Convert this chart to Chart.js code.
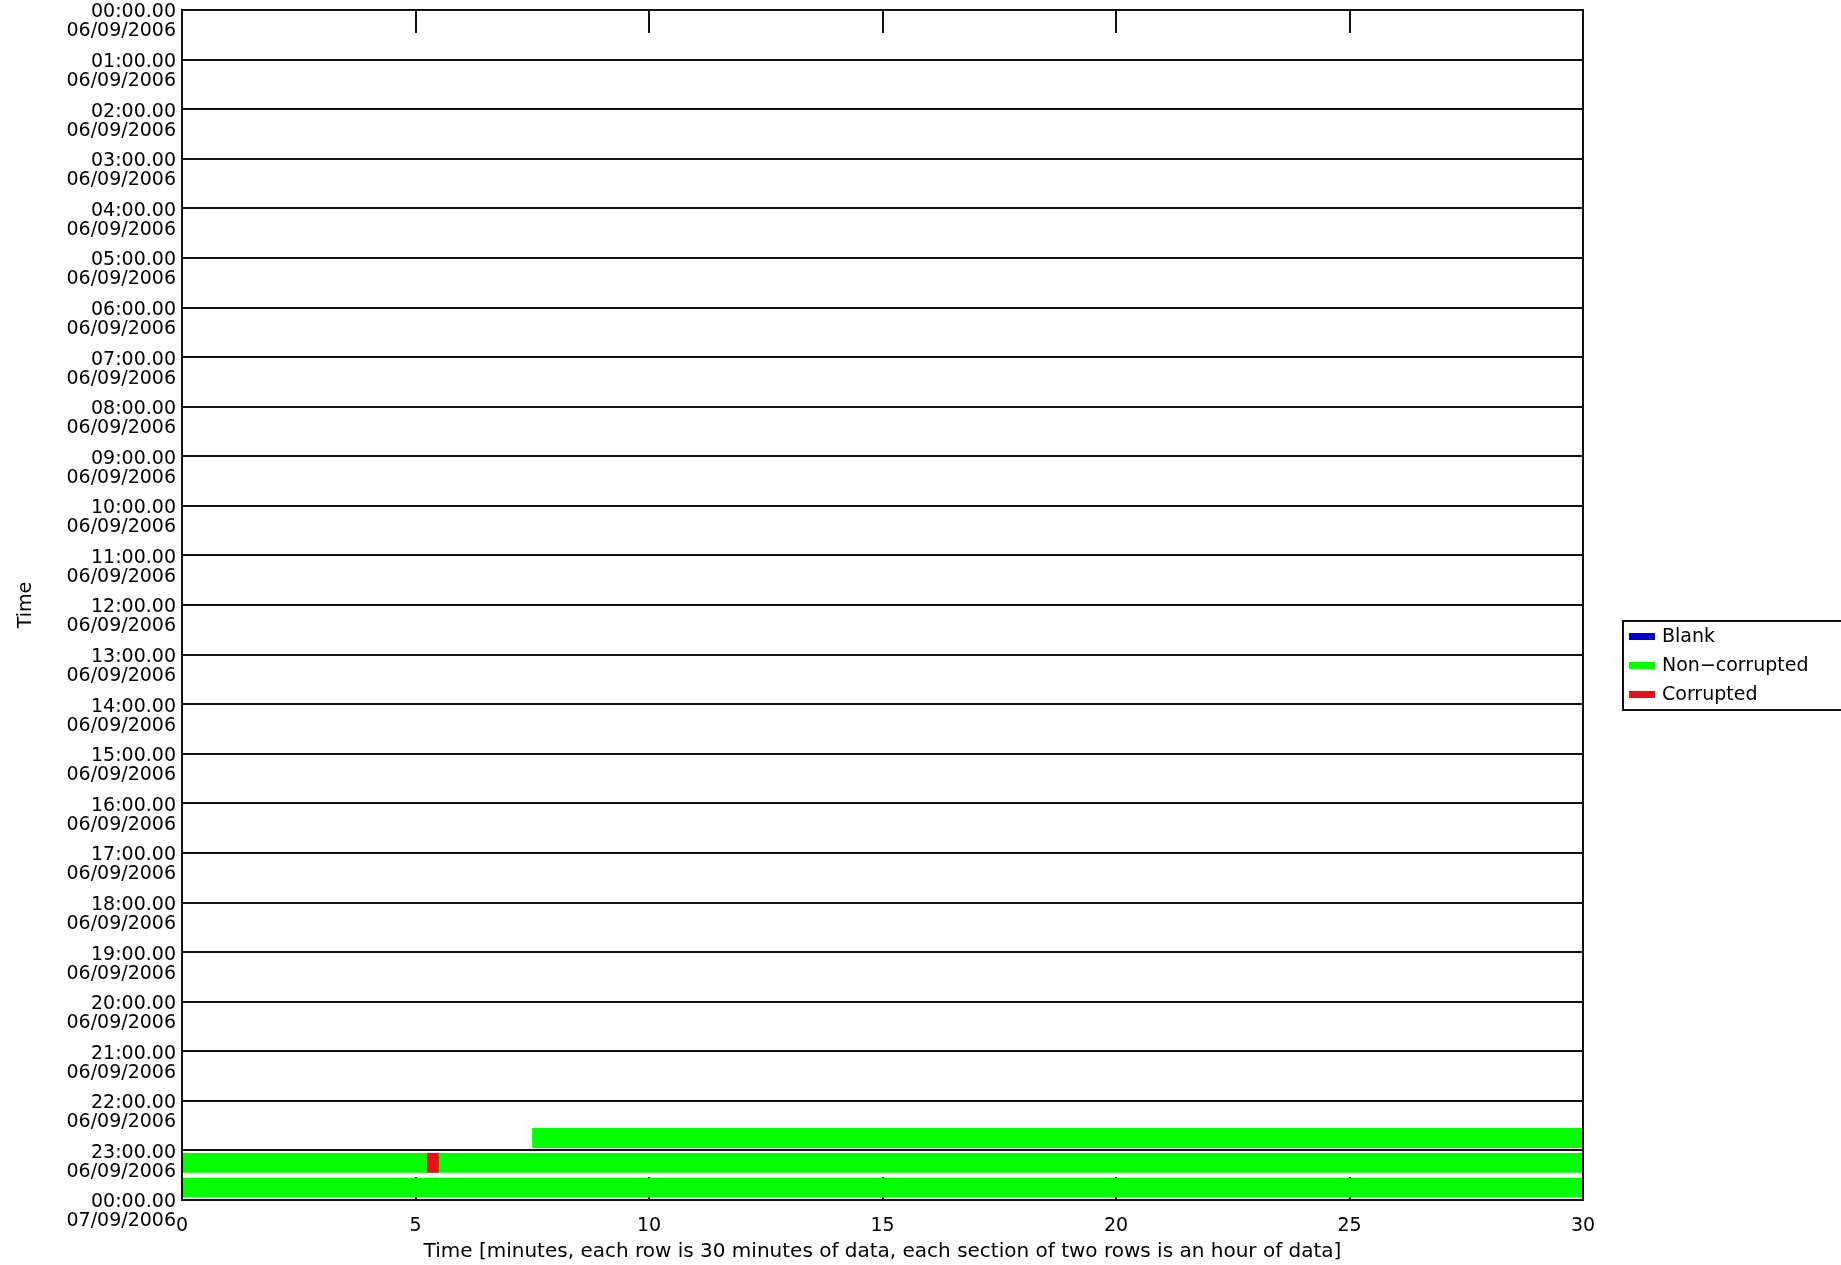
<!DOCTYPE html>
<html>
<head>
<meta charset="utf-8">
<script src="https://cdn.jsdelivr.net/npm/chart.js@4.4.1/dist/chart.umd.min.js"></script>
<style>
  body { margin: 0; background: #fff; }
  #wrap { position: relative; width: 1841px; height: 1265px; overflow: hidden; }
  #legend { position: absolute; left: 1622px; top: 620px; width: 230px; height: 87px;
            border: 2px solid #111; font: 19px 'DejaVu Sans', sans-serif; color: #000; }
  .item { position: absolute; left: 5px; height: 30px; line-height: 30px; white-space: nowrap; }
  .swatch { display: inline-block; width: 26px; height: 7px; vertical-align: middle; margin-right: 7px; }
</style>
</head>
<body>
<div id="wrap">
  <canvas id="chart" width="1841" height="1265"></canvas>
  <div id="legend"></div>
</div>
<script>
// one row = 30 minutes, two rows = one hour
const rowLabels = [
  '00:00', '00:30', '01:00', '01:30', '02:00', '02:30', '03:00', '03:30',
  '04:00', '04:30', '05:00', '05:30', '06:00', '06:30', '07:00', '07:30',
  '08:00', '08:30', '09:00', '09:30', '10:00', '10:30', '11:00', '11:30',
  '12:00', '12:30', '13:00', '13:30', '14:00', '14:30', '15:00', '15:30',
  '16:00', '16:30', '17:00', '17:30', '18:00', '18:30', '19:00', '19:30',
  '20:00', '20:30', '21:00', '21:30', '22:00', '22:30', '23:00', '23:30'
];

const hourLabels = [
  '00:00.00', '01:00.00', '02:00.00', '03:00.00', '04:00.00', '05:00.00',
  '06:00.00', '07:00.00', '08:00.00', '09:00.00', '10:00.00', '11:00.00',
  '12:00.00', '13:00.00', '14:00.00', '15:00.00', '16:00.00', '17:00.00',
  '18:00.00', '19:00.00', '20:00.00', '21:00.00', '22:00.00', '23:00.00',
  '00:00.00'
];
const dateLabels = [
  '06/09/2006', '06/09/2006', '06/09/2006', '06/09/2006', '06/09/2006',
  '06/09/2006', '06/09/2006', '06/09/2006', '06/09/2006', '06/09/2006',
  '06/09/2006', '06/09/2006', '06/09/2006', '06/09/2006', '06/09/2006',
  '06/09/2006', '06/09/2006', '06/09/2006', '06/09/2006', '06/09/2006',
  '06/09/2006', '06/09/2006', '06/09/2006', '06/09/2006', '07/09/2006'
];

// segments in minutes within each row
const blankRows  = [];
const blankStart = [];
const blankEnd   = [];

const goodRows  = ['22:30', '23:00', '23:30'];
const goodStart = [7.5, 0, 0];
const goodEnd   = [30, 30, 30];

const badRows  = ['23:00'];
const badStart = [5.25];
const badEnd   = [5.5];

const segs = (rows, from, to) => rows.map((r, i) => ({ y: r, x: [from[i], to[i]] }));

const datasets = [
  { label: 'Blank', data: segs(blankRows, blankStart, blankEnd), backgroundColor: '#0000d0', order: 1 },
  { label: 'Non\u2212corrupted', data: segs(goodRows, goodStart, goodEnd), backgroundColor: '#00ff00', order: 1 },
  { label: 'Corrupted', data: segs(badRows, badStart, badEnd), backgroundColor: '#e8101a', order: 0 }
];
datasets.forEach(d => {
  d.grouped = false;
  d.borderWidth = 0;
  d.barPercentage = 0.8;
  d.categoryPercentage = 1;
  d.xAxisID = 'x';
  d.yAxisID = 'y';
});

// frame and inward minute ticks
const frame = {
  id: 'frame',
  beforeDatasetsDraw(chart) {
    const { ctx, chartArea: a, scales: { x } } = chart;
    ctx.save();
    ctx.strokeStyle = '#111';
    ctx.lineWidth = 2;
    x.ticks.forEach(t => {
      if (t.value <= x.min || t.value >= x.max) return;
      const px = Math.round(x.getPixelForValue(t.value));
      ctx.beginPath();
      ctx.moveTo(px, a.top);
      ctx.lineTo(px, a.top + 23);
      ctx.moveTo(px, a.bottom);
      ctx.lineTo(px, a.bottom - 23);
      ctx.stroke();
    });
    ctx.restore();
  },
  afterDatasetsDraw(chart) {
    const { ctx, chartArea: a } = chart;
    ctx.save();
    ctx.strokeStyle = '#111';
    ctx.lineWidth = 2;
    ctx.strokeRect(a.left, a.top, a.right - a.left, a.bottom - a.top);
    ctx.restore();
  }
};

Chart.defaults.font.family = "'DejaVu Sans', sans-serif";
Chart.defaults.font.size = 19;
Chart.defaults.color = '#000';

new Chart(document.getElementById('chart'), {
  type: 'bar',
  data: { labels: rowLabels, datasets: datasets },
  plugins: [frame],
  options: {
    indexAxis: 'y',
    responsive: false,
    animation: false,
    layout: { padding: { top: 10, right: 258, left: 0, bottom: 0 } },
    plugins: { legend: { display: false }, tooltip: { enabled: false } },
    scales: {
      x: {
        type: 'linear',
        min: 0,
        max: 30,
        grid: { display: false },
        border: { display: false },
        ticks: { stepSize: 5, padding: 7, maxRotation: 0 },
        title: {
          display: true,
          text: 'Time [minutes, each row is 30 minutes of data, each section of two rows is an hour of data]',
          font: { size: 20 },
          padding: { top: 0, bottom: 1 }
        },
        afterFit(s) { s.height = 65; }
      },
      y: {
        type: 'category',
        display: false,
        offset: true
      },
      hours: {
        type: 'linear',
        position: 'left',
        min: 0,
        max: 24,
        reverse: true,
        offset: false,
        grid: { color: '#111', lineWidth: 2, drawTicks: false, offset: false },
        border: { display: false },
        ticks: {
          stepSize: 1,
          padding: 6,
          labelOffset: 12,
          autoSkip: false,
          font: { size: 19, lineHeight: 1.0 },
          callback: v => [hourLabels[v], dateLabels[v]]
        },
        title: { display: true, text: 'Time', padding: { top: 15, bottom: 0 } },
        afterFit(s) {
          s.width = 182;
          s.paddingTop = 0;
          s.paddingBottom = 0;
        }
      }
    }
  }
});

// legend box on the right
const legend = document.getElementById('legend');
datasets.forEach((d, i) => {
  const item = document.createElement('div');
  item.className = 'item';
  item.style.top = (-2 + i * 29) + 'px';
  const sw = document.createElement('span');
  sw.className = 'swatch';
  sw.style.background = d.backgroundColor;
  item.appendChild(sw);
  item.appendChild(document.createTextNode(d.label));
  legend.appendChild(item);
});
</script>
</body>
</html>
